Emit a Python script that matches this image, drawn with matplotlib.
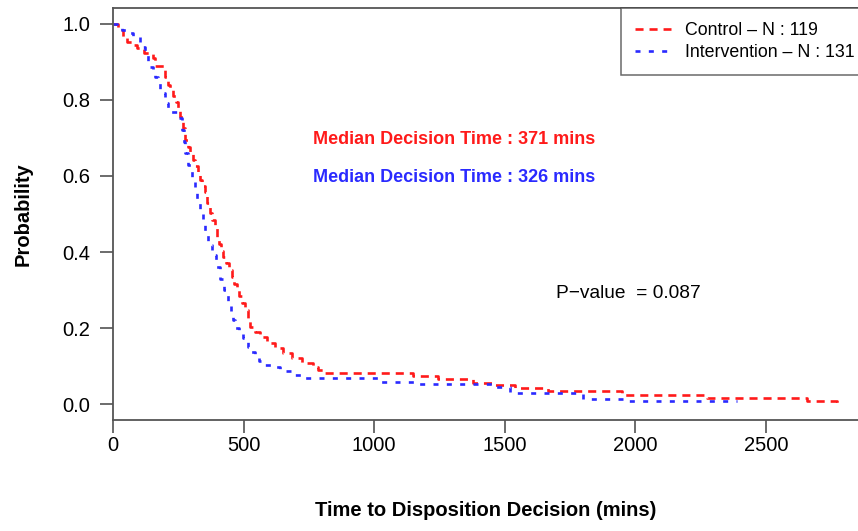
import matplotlib
matplotlib.use("Agg")
import matplotlib.pyplot as plt

# Kaplan-Meier style step data
ctrl_time = [0, 20, 40, 55, 75, 92, 120, 153, 160, 199, 210, 220, 230, 240, 249, 258,
             268, 276, 286, 296, 306, 315, 324, 333, 342, 352, 361, 371, 380, 389, 398,
             406, 414, 421, 432, 444, 455, 465, 474, 484, 494, 505, 515, 524, 545, 563,
             590, 620, 650, 685, 725, 766, 785, 804, 1150, 1245, 1380, 1455, 1540, 1665,
             1950, 2275, 2655, 2770]
ctrl_surv = [1.0, 0.985, 0.966, 0.953, 0.945, 0.937, 0.924, 0.91, 0.89, 0.86, 0.84,
             0.825, 0.81, 0.795, 0.78, 0.755, 0.726, 0.695, 0.676, 0.66, 0.642, 0.625,
             0.607, 0.59, 0.574, 0.558, 0.53, 0.503, 0.483, 0.462, 0.44, 0.42, 0.403,
             0.387, 0.37, 0.352, 0.334, 0.317, 0.30, 0.283, 0.265, 0.247, 0.225, 0.203,
             0.19, 0.176, 0.16, 0.147, 0.134, 0.121, 0.109, 0.097, 0.09, 0.082, 0.074,
             0.066, 0.055, 0.050, 0.042, 0.034, 0.025, 0.017, 0.008, 0.0]

int_time = [0, 15, 34, 55, 77, 103, 112, 122, 134, 143, 153, 162, 172, 180, 188, 199,
            209, 218, 249, 264, 270, 276, 289, 302, 314, 322, 333, 345, 352, 364, 379,
            395, 410, 425, 440, 452, 460, 467, 482, 498, 517, 530, 544, 559, 574, 609,
            639, 685, 724, 1020, 1165, 1455, 1520, 1800, 1970, 2390]
int_surv = [1.0, 0.992, 0.984, 0.976, 0.968, 0.952, 0.94, 0.926, 0.90, 0.887, 0.874,
            0.86, 0.845, 0.83, 0.818, 0.792, 0.78, 0.768, 0.753, 0.72, 0.69, 0.66, 0.63,
            0.597, 0.568, 0.537, 0.503, 0.479, 0.45, 0.418, 0.392, 0.36, 0.33, 0.30,
            0.27, 0.24, 0.22, 0.20, 0.187, 0.174, 0.15, 0.137, 0.124, 0.113, 0.103,
            0.097, 0.087, 0.076, 0.069, 0.058, 0.053, 0.045, 0.029, 0.013, 0.0076,
            0.0076]

x_ticks = [0, 500, 1000, 1500, 2000, 2500]
y_ticks = [0.0, 0.2, 0.4, 0.6, 0.8, 1.0]
y_tick_labels = ["0.0", "0.2", "0.4", "0.6", "0.8", "1.0"]

red = "#ff1a1a"
blue = "#2a2aff"


def main():
    plt.rcParams["font.family"] = ["Liberation Sans", "DejaVu Sans"]
    plt.rcParams["lines.scale_dashes"] = False

    fig = plt.figure(figsize=(8.58, 5.31), dpi=100)
    ax = fig.add_axes([113 / 858, 111 / 531, 745 / 858, 412 / 531])

    ax.step(ctrl_time, ctrl_surv, where="post", color=red, lw=1.9,
            dashes=(5.8, 4.3), label="Control \u2013 N : 119")
    ax.step(int_time, int_surv, where="post", color=blue, lw=1.9,
            dashes=(3.6, 6.0), label="Intervention \u2013 N : 131")

    ax.set_xlim(0, 2852)
    ax.set_ylim(-0.042, 1.042)

    ax.set_xticks(x_ticks)
    ax.set_yticks(y_ticks)
    ax.set_yticklabels(y_tick_labels)
    ax.tick_params(axis="both", direction="out", length=9.5, width=1.1,
                   color="#444444", labelsize=14.5)
    ax.tick_params(axis="x", pad=2)
    ax.tick_params(axis="y", pad=7)

    for side in ["left", "bottom", "top"]:
        ax.spines[side].set_color("#555555")
        ax.spines[side].set_linewidth(1.3)
    ax.spines["right"].set_visible(False)

    ax.set_xlabel("Time to Disposition Decision (mins)", fontsize=14.5,
                  fontweight="bold", labelpad=33)
    ax.set_ylabel("Probability", fontsize=14.5, fontweight="bold", labelpad=21)

    ax.text(766, 0.695, "Median Decision Time : 371 mins", color=red,
            fontsize=13, fontweight="bold", va="center")
    ax.text(766, 0.595, "Median Decision Time : 326 mins", color=blue,
            fontsize=13, fontweight="bold", va="center")
    ax.text(1696, 0.292, "P\u2212value  = 0.087", color="black", fontsize=13.8,
            va="center")

    leg = ax.legend(loc="upper left", bbox_to_anchor=(0.682, 1.0), fontsize=12.8,
                    frameon=True, fancybox=False, borderaxespad=0,
                    handlelength=2.0, handletextpad=0.8, borderpad=0.8,
                    labelspacing=0.28)
    leg.get_frame().set_edgecolor("#444444")
    leg.get_frame().set_linewidth(1.1)

    fig.savefig("out.png", dpi=100)


if __name__ == "__main__":
    main()
